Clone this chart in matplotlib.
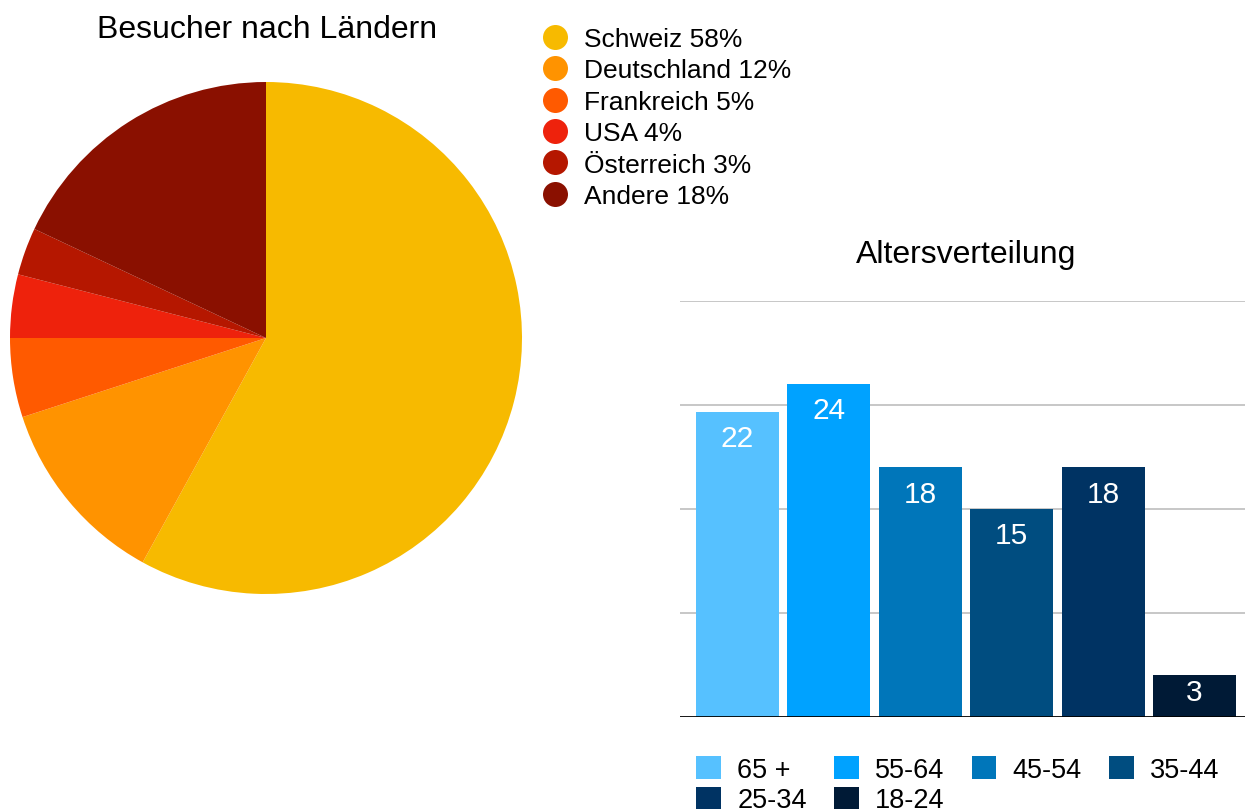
import matplotlib.pyplot as plt
from matplotlib.lines import Line2D
from matplotlib.patches import Patch

plt.rcParams['font.family'] = ['Liberation Sans', 'DejaVu Sans']

# Besucher nach Ländern
countries = ['Schweiz', 'Deutschland', 'Frankreich', 'USA', 'Österreich', 'Andere']
shares = [58, 12, 5, 4, 3, 18]
pie_colors = ['#F7BA00', '#FF9300', '#FF5A00', '#EE220C', '#B51700', '#8A1000']

# Altersverteilung
age_groups = ['65 +', '55-64', '45-54', '35-44', '25-34', '18-24']
age_values = [22, 24, 18, 15, 18, 3]
bar_colors = ['#56C1FF', '#00A2FF', '#0076BA', '#004D80', '#003363', '#001A36']

W, H = 1245, 812
fig = plt.figure(figsize=(W / 100, H / 100), dpi=100)

def px_axes(x0, y0, x1, y1):
	# axes from pixel box (top-left origin)
	return fig.add_axes([x0 / W, 1 - y1 / H, (x1 - x0) / W, (y1 - y0) / H])

# --- pie ---
ax_pie = px_axes(10, 83, 522, 595)
ax_pie.pie(shares, colors=pie_colors, startangle=90, counterclock=False,
		   radius=1, wedgeprops=dict(linewidth=0))
ax_pie.set_xlim(-1, 1)
ax_pie.set_ylim(-1, 1)
ax_pie.set_aspect('equal')
ax_pie.axis('off')
fig.text(267 / W, 1 - 30 / H, 'Besucher nach Ländern', ha='center', va='center', fontsize=23)

handles = [Line2D([], [], marker='o', linestyle='none', markersize=18,
				  markerfacecolor=c, markeredgecolor='none') for c in pie_colors]
labels = [f'{c} {s}%' for c, s in zip(countries, shares)]
fig.legend(handles, labels, loc='upper left', bbox_to_anchor=(542 / W, 1 - 28 / H),
		   frameon=False, fontsize=19, labelspacing=0.28, handletextpad=0.6,
		   handlelength=1.0, borderpad=0, borderaxespad=0)

# --- bars ---
ax_bar = px_axes(680, 302, 1245, 718)
x = list(range(len(age_values)))
bars = ax_bar.bar(x, age_values, width=0.908, color=bar_colors, zorder=2)
ax_bar.set_ylim(0, 30)
ax_bar.set_xlim(-0.629, 5.553)
for y in [7.5, 15, 22.5, 30]:
	ax_bar.axhline(y, color='#BDBDBD', linewidth=1.2, zorder=1)
ax_bar.axhline(0, color='black', linewidth=2, zorder=3)
for spine in ax_bar.spines.values():
	spine.set_visible(False)
ax_bar.set_xticks([])
ax_bar.set_yticks([])
for xi, v in zip(x, age_values):
	pad = -22 if v < 5 else -29
	ax_bar.annotate(str(v), xy=(xi, v), xytext=(0, pad), textcoords='offset points',
					ha='center', va='bottom', color='white', fontsize=21.5, zorder=4)
fig.text(966 / W, 1 - 255 / H, 'Altersverteilung', ha='center', va='center', fontsize=23)

# legend fills column by column, so reorder to read row by row
order = [0, 4, 1, 5, 2, 3]
sq_handles = [Patch(facecolor=bar_colors[i], edgecolor='none') for i in order]
fig.legend(sq_handles, [age_groups[i] for i in order], loc='upper left',
		   bbox_to_anchor=(696 / W, 1 - 757 / H),
		   ncol=4, frameon=False, fontsize=19.5, labelspacing=0.14, handletextpad=0.6,
		   handlelength=0.92, handleheight=0.92, columnspacing=1.0,
		   borderpad=0, borderaxespad=0)

fig.savefig('out.png', dpi=100)
